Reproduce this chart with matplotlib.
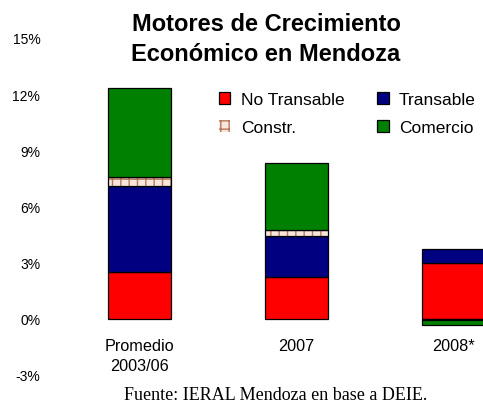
import numpy as np
import matplotlib
matplotlib.use('Agg')
import matplotlib.pyplot as plt

# -----------------------
# Datos
# -----------------------
categorias = ['Promedio\n2003/06', '2007', '2008*']
no_transable = [2.5, 2.25, 3.0]
transable = [4.6, 2.2, 0.75]
constr = [0.5, 0.27, -0.06]
comercio = [4.75, 3.6, -0.25]
yticks = [-3, 0, 3, 6, 9, 12, 15]
ytick_labels = ['-3%', '0%', '3%', '6%', '9%', '12%', '15%']

plt.rcParams['font.family'] = ['Liberation Sans', 'DejaVu Sans']

W, H = 483, 406
fig = plt.figure(figsize=(W / 100, H / 100), dpi=100)
ax = fig.add_axes([50 / W, 30 / H, (W - 50) / W, 337 / H])

x = np.arange(len(categorias))
ancho = 0.4

# apilado: positivos hacia arriba, negativos hacia abajo
pos_base = np.zeros(len(x))
neg_base = np.zeros(len(x))
series = [
    ('No Transable', no_transable, '#ff0000', None),
    ('Transable', transable, '#000080', None),
    ('Constr.', constr, '#f6e6de', '++'),
    ('Comercio', comercio, '#008000', None),
]
handles = {}
for nombre, vals, color, hatch in series:
    vals = np.array(vals)
    base = np.where(vals >= 0, pos_base, neg_base)
    if hatch:
        h = ax.bar(x, vals, ancho, bottom=base, color=color, hatch=hatch,
                   edgecolor='#b87a5c', linewidth=0.0)
        ax.bar(x, vals, ancho, bottom=base, fill=False, edgecolor='black', linewidth=0.9)
    else:
        h = ax.bar(x, vals, ancho, bottom=base, color=color,
                   edgecolor='black', linewidth=0.9)
    handles[nombre] = h
    pos_base = pos_base + np.where(vals >= 0, vals, 0)
    neg_base = neg_base + np.where(vals < 0, vals, 0)

ax.set_xlim((50 - 139.5) / 157, (W - 139.5) / 157)
ax.set_ylim(-3, 15)
ax.set_yticks(yticks)
ax.set_yticklabels(ytick_labels, fontsize=10)
ax.tick_params(axis='y', length=0, pad=7)
ax.set_xticks([])
for s in ax.spines.values():
    s.set_visible(False)

for xi, cat in zip(x, categorias):
    ax.text(xi, -1.0, cat, ha='center', va='top', fontsize=11.7, linespacing=1.45)

orden = ['No Transable', 'Constr.', 'Transable', 'Comercio']
ax.legend([handles[n] for n in orden], orden, ncol=2, frameon=False,
          loc='upper left', bbox_to_anchor=(219 / W, 1 - 93 / H),
          bbox_transform=fig.transFigure, fontsize=12.5,
          handlelength=0.65, handleheight=0.65, handletextpad=0.6,
          columnspacing=1.9, labelspacing=0.75, borderaxespad=0, borderpad=0)

fig.text(266 / W, 1 - 39.5 / H, 'Motores de Crecimiento\nEconómico en Mendoza',
         ha='center', va='center', fontsize=17, fontweight='bold', linespacing=1.4)
fig.text(276 / W, 1 - 396 / H, 'Fuente: IERAL Mendoza en base a DEIE.',
         ha='center', va='center', fontsize=13, family=['Liberation Serif', 'DejaVu Serif'])

fig.savefig('out.png', dpi=100)
